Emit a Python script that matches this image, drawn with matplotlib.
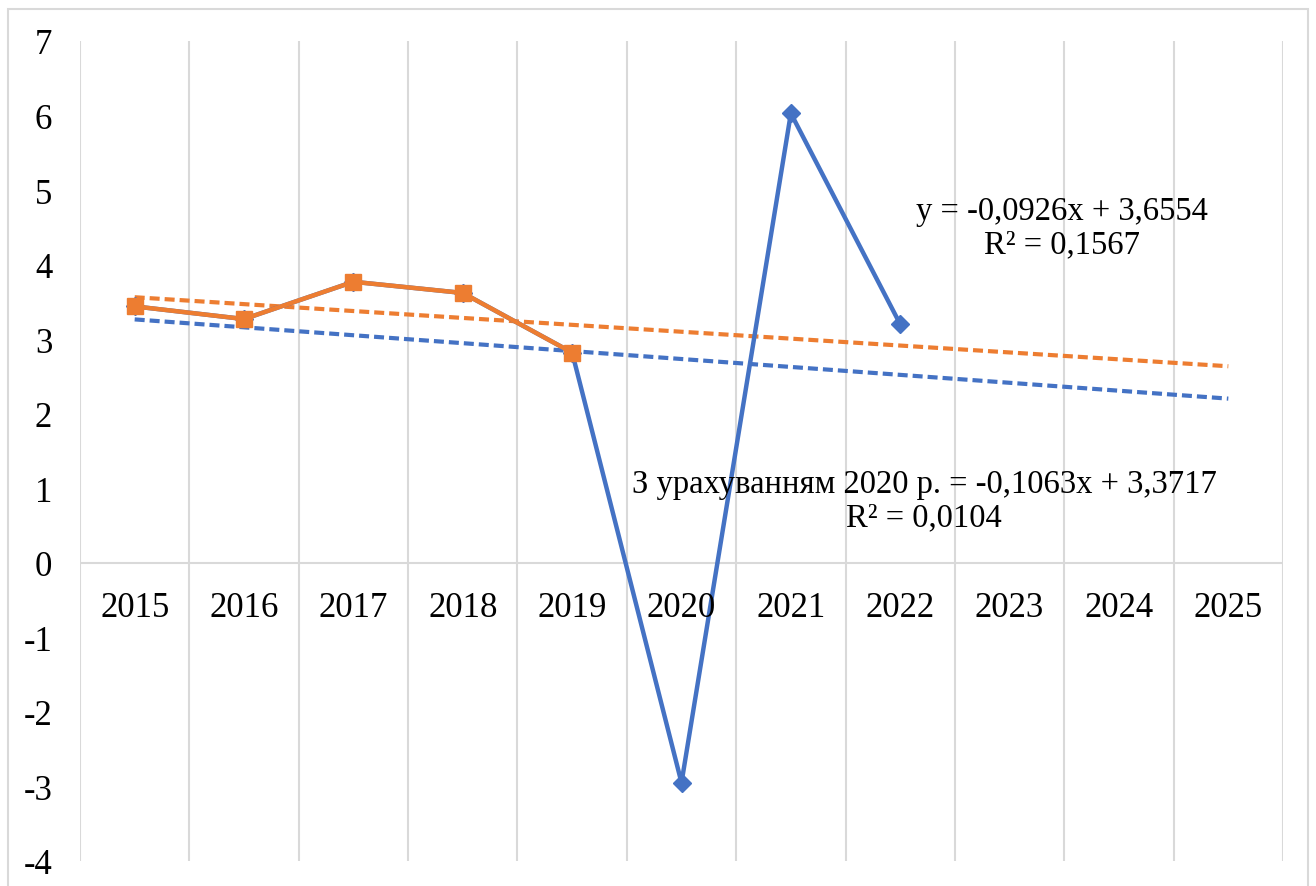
import matplotlib.pyplot as plt
import numpy as np
from matplotlib.patches import Rectangle

years = ['2015', '2016', '2017', '2018', '2019', '2020', '2021', '2022', '2023', '2024', '2025']
blue_values = [3.44, 3.27, 3.77, 3.62, 2.82, -2.95, 6.03, 3.20]
orange_values = [3.44, 3.27, 3.77, 3.62, 2.82]

# trendline coefficients shown on the chart (slope, intercept)
blue_trend = (-0.1063, 3.3717)
orange_trend = (-0.0926, 3.6554)

blue_label = 'З урахуванням 2020 р. = -0,1063x + 3,3717\nR² = 0,0104'
orange_label = 'y = -0,0926x + 3,6554\nR² = 0,1567'

blue = '#4472C4'
orange = '#ED7D31'
grid = '#D9D9D9'
serif = ['Liberation Serif', 'DejaVu Serif']

plt.rcParams['font.family'] = serif

fig = plt.figure(figsize=(13.16, 8.87), dpi=100)
fig.patches.append(Rectangle((8 / 1316, -0.05), 1300 / 1316, 1.05 - 10 / 887,
                             transform=fig.transFigure, fill=False,
                             edgecolor=grid, linewidth=1.5))
ax = fig.add_axes([80 / 1316, 1 - 862 / 887, 1203 / 1316, 820 / 887])

n = len(years)
x_all = np.arange(1, n + 1)

# category boundary gridlines
for b in np.arange(0.5, n + 1):
    ax.plot([b, b], [-4, 7], color=grid, linewidth=1.5, zorder=1)
ax.plot([0.5, n + 0.5], [0, 0], color=grid, linewidth=1.5, zorder=1)

# trendlines
ax.plot(x_all, blue_trend[0] * x_all + blue_trend[1], color=blue, linewidth=3,
        linestyle=(0, (2.4, 1.2)), zorder=2)
ax.plot(x_all, orange_trend[0] * x_all + orange_trend[1], color=orange, linewidth=3,
        linestyle=(0, (2.4, 1.2)), zorder=2)

# series
ax.plot(x_all[:len(blue_values)], blue_values, color=blue, linewidth=3.2,
        marker='D', markersize=9.5, zorder=3)
ax.plot(x_all[:len(orange_values)], orange_values, color=orange, linewidth=3.2,
        marker='s', markersize=11.5, zorder=4)

ax.set_xlim(0.5, n + 0.5)
ax.set_ylim(-4, 7)
ax.set_xticks([])
ax.set_yticks(range(-4, 8))
ax.set_yticklabels([str(v) for v in range(-4, 8)], fontsize=25, family=serif)
ax.tick_params(axis='y', length=0, pad=20)
for s in ax.spines.values():
    s.set_visible(False)

for xi, lab in zip(x_all, years):
    ax.annotate(lab, (xi, 0), xytext=(0, -20), textcoords='offset points',
                ha='center', va='top', fontsize=25, family=serif)

ax.text(9.48, 4.5, orange_label, ha='center', va='center', fontsize=23.5,
        linespacing=1.1, family=serif)
ax.text(8.22, 0.84, blue_label, ha='center', va='center', fontsize=23.5,
        linespacing=1.1, family=serif)

fig.savefig('out.png', dpi=100)
